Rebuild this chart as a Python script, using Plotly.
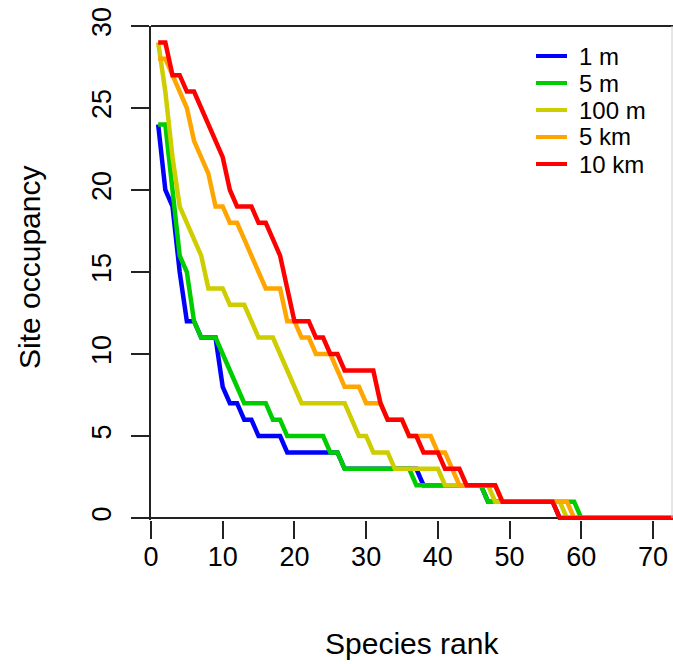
import plotly.graph_objects as go

# Species rank (x) and site occupancy per rank (y) for each spatial grain
rank = list(range(1, 74))

occ_1m = [24, 20, 19, 15, 12, 12, 11, 11, 11, 8,
          7, 7, 6, 6, 5, 5, 5, 5, 4, 4,
          4, 4, 4, 4, 4, 4, 3, 3, 3, 3,
          3, 3, 3, 3, 3, 3, 3, 2, 2, 2,
          2, 2, 2, 2, 2, 2, 1, 1, 1, 1,
          1, 1, 1, 1, 1, 1, 0, 0, 0, 0,
          0, 0, 0, 0, 0, 0, 0, 0, 0, 0,
          0, 0, 0]

occ_5m = [24, 24, 20, 16, 15, 12, 11, 11, 11, 10,
          9, 8, 7, 7, 7, 7, 6, 6, 5, 5,
          5, 5, 5, 5, 4, 4, 3, 3, 3, 3,
          3, 3, 3, 3, 3, 3, 2, 2, 2, 2,
          2, 2, 2, 2, 2, 2, 1, 1, 1, 1,
          1, 1, 1, 1, 1, 1, 1, 1, 1, 0,
          0, 0, 0, 0, 0, 0, 0, 0, 0, 0,
          0, 0, 0]

occ_100m = [29, 26, 22, 19, 18, 17, 16, 14, 14, 14,
            13, 13, 13, 12, 11, 11, 11, 10, 9, 8,
            7, 7, 7, 7, 7, 7, 7, 6, 5, 5,
            4, 4, 4, 3, 3, 3, 3, 3, 3, 3,
            2, 2, 2, 2, 2, 2, 2, 1, 1, 1,
            1, 1, 1, 1, 1, 1, 1, 0, 0, 0,
            0, 0, 0, 0, 0, 0, 0, 0, 0, 0,
            0, 0, 0]

occ_5km = [28, 28, 27, 26, 25, 23, 22, 21, 19, 19,
           18, 18, 17, 16, 15, 14, 14, 14, 12, 12,
           11, 11, 10, 10, 10, 9, 8, 8, 8, 7,
           7, 7, 6, 6, 6, 5, 5, 5, 5, 4,
           4, 3, 2, 2, 2, 2, 2, 2, 1, 1,
           1, 1, 1, 1, 1, 1, 1, 1, 0, 0,
           0, 0, 0, 0, 0, 0, 0, 0, 0, 0,
           0, 0, 0]

occ_10km = [29, 29, 27, 27, 26, 26, 25, 24, 23, 22,
            20, 19, 19, 19, 18, 18, 17, 16, 14, 12,
            12, 12, 11, 11, 10, 10, 9, 9, 9, 9,
            9, 7, 6, 6, 6, 5, 5, 4, 4, 4,
            3, 3, 3, 2, 2, 2, 2, 2, 1, 1,
            1, 1, 1, 1, 1, 1, 0, 0, 0, 0,
            0, 0, 0, 0, 0, 0, 0, 0, 0, 0,
            0, 0, 0]

series_names = ["1 m", "5 m", "100 m", "5 km", "10 km"]
series_values = [occ_1m, occ_5m, occ_100m, occ_5km, occ_10km]
series_colors = ["#0000FF", "#00CD00", "#CDCD00", "#FFA500", "#FF0000"]

x_ticks = [0, 10, 20, 30, 40, 50, 60, 70]
y_ticks = [0, 5, 10, 15, 20, 25, 30]

FONT = "Liberation Sans, Arial, sans-serif"
FS_TICK = 27
FS_TITLE = 30
FS_LEGEND = 24
LINE_W = 4.5

# figure geometry (pixels)
W, H = 673, 664
L, R, T, B = 151, 0, 26, 144
PW, PH = W - L - R, H - T - B
X_MAX = 72.79
Y_MIN, Y_MAX = -0.12, 30


def px_to_paper_x(px):
    return (px - L) / PW


def py_to_paper_y(py):
    return (T + PH - py) / PH


fig = go.Figure()
for name, vals, col in zip(series_names, series_values, series_colors):
    fig.add_trace(go.Scatter(x=rank, y=vals, mode="lines", name=name,
                             line=dict(color=col, width=LINE_W),
                             showlegend=False, hoverinfo="skip"))

axis_common = dict(ticks="outside", ticklen=18, tickwidth=2, tickcolor="#222",
                   showgrid=False,
                   tickfont=dict(family=FONT, size=FS_TICK, color="black"))

fig.update_xaxes(range=[0, X_MAX], tickvals=x_ticks, showline=False,
                 zeroline=False, ticklabelstandoff=-5, **axis_common)
fig.update_yaxes(range=[Y_MIN, Y_MAX], tickvals=y_ticks, showline=True,
                 linecolor="#222", linewidth=2, mirror=False, tickangle=-90,
                 zeroline=True, zerolinecolor="#222", zerolinewidth=2,
                 ticklabelstandoff=9, **axis_common)

shapes = [
    # top border of the box
    dict(type="line", xref="paper", yref="paper", x0=0, x1=1, y0=1, y1=1,
         line=dict(color="#222", width=2)),
    # faint right border
    dict(type="line", xref="paper", yref="paper",
         x0=px_to_paper_x(672), x1=px_to_paper_x(672), y0=py_to_paper_y(518), y1=1,
         line=dict(color="#cccccc", width=1)),
]

annotations = [
    dict(text="Species rank", xref="paper", yref="paper", x=0.5,
         y=py_to_paper_y(643), xanchor="center", yanchor="middle",
         showarrow=False, font=dict(family=FONT, size=FS_TITLE, color="black")),
    dict(text="Site occupancy", xref="paper", yref="paper", x=px_to_paper_x(29),
         y=py_to_paper_y(268), xanchor="center", yanchor="middle", textangle=-90,
         showarrow=False, font=dict(family=FONT, size=FS_TITLE, color="black")),
]

# legend drawn as line swatches with labels
legend_rows_py = [56, 83, 110, 137, 164]
for name, col, py in zip(series_names, series_colors, legend_rows_py):
    yp = py_to_paper_y(py)
    shapes.append(dict(type="line", xref="paper", yref="paper",
                       x0=px_to_paper_x(536), x1=px_to_paper_x(567), y0=yp, y1=yp,
                       line=dict(color=col, width=4)))
    annotations.append(dict(text=name, xref="paper", yref="paper",
                            x=px_to_paper_x(577), y=yp, xanchor="left",
                            yanchor="middle", showarrow=False,
                            font=dict(family=FONT, size=FS_LEGEND, color="black")))

fig.update_layout(width=W, height=H, autosize=False,
                  margin=dict(l=L, r=R, t=T, b=B, pad=0),
                  plot_bgcolor="white", paper_bgcolor="white",
                  shapes=shapes, annotations=annotations, showlegend=False)

fig.write_html("out.html")
